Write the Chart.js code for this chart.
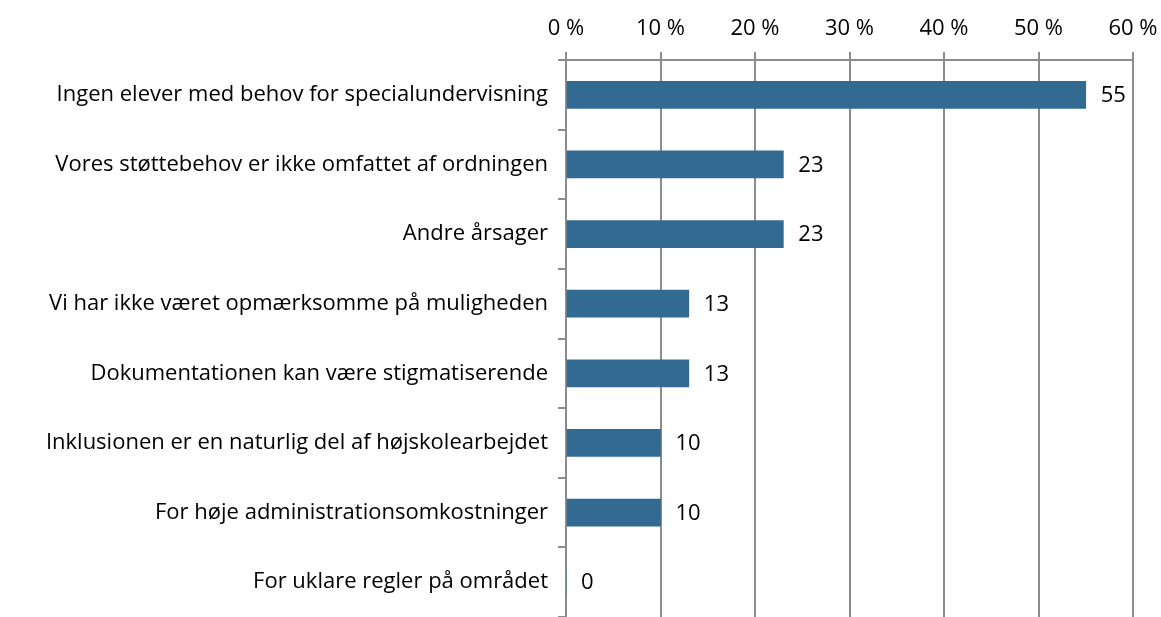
<!DOCTYPE html>
<html lang="da">
<head>
<meta charset="utf-8">
<script src="https://cdn.jsdelivr.net/npm/chart.js@4.4.1/dist/chart.umd.min.js"></script>
<style>
  html, body { margin: 0; padding: 0; background: #fff; }
  #wrap { width: 1161px; height: 617px; }
</style>
</head>
<body>
<div id="wrap"><canvas id="chart" width="1161" height="617"></canvas></div>
<script>
const categories = [
  'Ingen elever med behov for specialundervisning',
  'Vores støttebehov er ikke omfattet af ordningen',
  'Andre årsager',
  'Vi har ikke været opmærksomme på muligheden',
  'Dokumentationen kan være stigmatiserende',
  'Inklusionen er en naturlig del af højskolearbejdet',
  'For høje administrationsomkostninger',
  'For uklare regler på området'
];
const values = [55, 23, 23, 13, 13, 10, 10, 0];
const xTicks = [0, 10, 20, 30, 40, 50, 60];

const FONT = '"Open Sans", "DejaVu Sans", sans-serif';
const FONT_SIZE = 22;
const gridColor = '#8c8c8c';

// draws the value right of each bar
const valueLabels = {
  id: 'valueLabels',
  afterDatasetsDraw(chart) {
    const ctx = chart.ctx;
    const meta = chart.getDatasetMeta(0);
    ctx.save();
    ctx.font = FONT_SIZE + 'px ' + FONT;
    ctx.fillStyle = '#000';
    ctx.textAlign = 'left';
    ctx.textBaseline = 'middle';
    meta.data.forEach((bar, i) => {
      ctx.fillText(String(values[i]), bar.x + 15, bar.y + 1);
    });
    ctx.restore();
  }
};

new Chart(document.getElementById('chart'), {
  type: 'bar',
  data: {
    labels: categories,
    datasets: [{
      data: values,
      backgroundColor: '#336a91',
      borderWidth: 0,
      barThickness: 27
    }]
  },
  options: {
    indexAxis: 'y',
    responsive: false,
    animation: false,
    layout: { padding: { left: 0, right: 28, top: 0, bottom: 0 } },
    plugins: { legend: { display: false }, tooltip: { enabled: false } },
    scales: {
      x: {
        position: 'top',
        min: 0,
        max: 60,
        afterBuildTicks: (s) => { s.ticks = xTicks.map(v => ({ value: v })); },
        afterFit: (s) => { s.height = 60; s.paddingLeft = 0; s.paddingRight = 0; },
        ticks: {
          callback: (v) => v + ' %',
          color: '#000',
          font: { family: FONT, size: FONT_SIZE },
          padding: 10,
          maxRotation: 0
        },
        grid: { color: gridColor, lineWidth: 2, tickLength: 8 },
        border: { color: gridColor, width: 2 }
      },
      y: {
        afterFit: (s) => { s.width = 566; s.paddingTop = 0; s.paddingBottom = 0; },
        ticks: {
          color: '#000',
          font: { family: FONT, size: FONT_SIZE },
          padding: 10
        },
        grid: { drawOnChartArea: false, color: gridColor, lineWidth: 2, tickLength: 8 },
        border: { color: gridColor, width: 2 }
      }
    }
  },
  plugins: [valueLabels]
});
</script>
</body>
</html>
